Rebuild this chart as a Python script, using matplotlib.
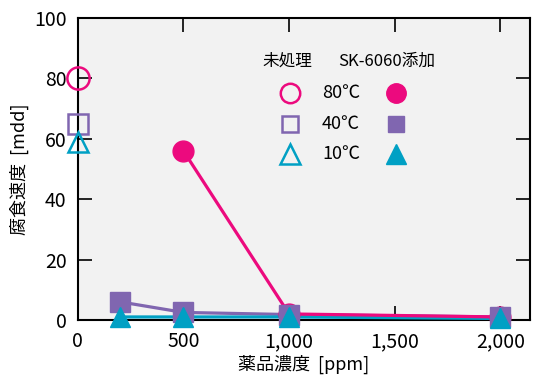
import numpy as np
import matplotlib.pyplot as plt

plt.rcParams['font.family'] = ['Noto Sans CJK JP', 'DejaVu Sans']

# 未処理 (x = 0)
untreated_x = [0]
untreated_80 = [80]
untreated_40 = [65]
untreated_10 = [59]

# SK-6060添加
x80 = [500, 1000, 2000]
y80 = [56, 2, 1]
x40 = [200, 500, 1000, 2000]
y40 = [6, 2.5, 1.8, 1]
x10 = [200, 500, 1000, 2000]
y10 = [1, 1, 1, 0.5]

temps = ['80℃', '40℃', '10℃']
pink = '#EC0A7E'
purple = '#8066B0'
cyan = '#00A0C4'

fig = plt.figure(figsize=(5.33, 3.76), dpi=100)
ax = fig.add_axes([0.146, 0.149, 0.848, 0.803])
ax.set_facecolor('#F2F2F2')

lw = 2.3
ms = 15
ax.plot(x40, y40, color=purple, lw=lw, zorder=3)
ax.plot(x10, y10, color=cyan, lw=lw, zorder=3)
ax.plot(x80, y80, color=pink, lw=lw, zorder=4)
ax.plot(x80, y80, 'o', color=pink, ms=ms, zorder=5, clip_on=False)
ax.plot(x40, y40, 's', color=purple, ms=ms - 1, zorder=6, clip_on=False)
ax.plot(x10, y10, '^', color=cyan, ms=ms, zorder=7, clip_on=False)

ax.plot(untreated_x, untreated_80, 'o', mfc='none', mec=pink, mew=1.8, ms=ms + 1, clip_on=False, zorder=8)
ax.plot(untreated_x, untreated_40, 's', mfc='none', mec=purple, mew=1.8, ms=ms - 1, clip_on=False, zorder=8)
ax.plot(untreated_x, untreated_10, '^', mfc='none', mec=cyan, mew=1.8, ms=ms, clip_on=False, zorder=8)

ax.set_xlim(0, 2140)
ax.set_ylim(0, 100)
ax.set_xticks([0, 500, 1000, 1500, 2000])
ax.set_xticklabels(['0', '500', '1,000', '1,500', '2,000'])
ax.set_yticks([0, 20, 40, 60, 80, 100])
ax.tick_params(direction='in', length=10, width=1.2, top=True, right=True,
               labelsize=14, pad=8)
for s in ax.spines.values():
    s.set_linewidth(1.5)

ax.set_xlabel('薬品濃度  [ppm]', fontsize=13, labelpad=2)
ax.set_ylabel('腐食速度  [mdd]', fontsize=13, labelpad=4)

# legend drawn as text
ax.text(0.409, 0.858, '未処理', transform=ax.transAxes, fontsize=12, va='center', ha='left')
ax.text(0.575, 0.858, 'SK-6060添加', transform=ax.transAxes, fontsize=12, va='center', ha='left')
rows = [0.752, 0.649, 0.55]
markers = ['o', 's', '^']
colors = [pink, purple, cyan]
for r, m, c, t in zip(rows, markers, colors, temps):
    ax.plot([0.469], [r], m, mfc='none', mec=c, mew=1.8, ms=14 if m != 's' else 12,
            transform=ax.transAxes, zorder=9)
    ax.text(0.54, r, t, transform=ax.transAxes, fontsize=13, va='center', ha='left')
    ax.plot([0.703], [r], m, color=c, ms=14 if m != 's' else 12,
            transform=ax.transAxes, zorder=9)

fig.savefig('out.png', dpi=100)
